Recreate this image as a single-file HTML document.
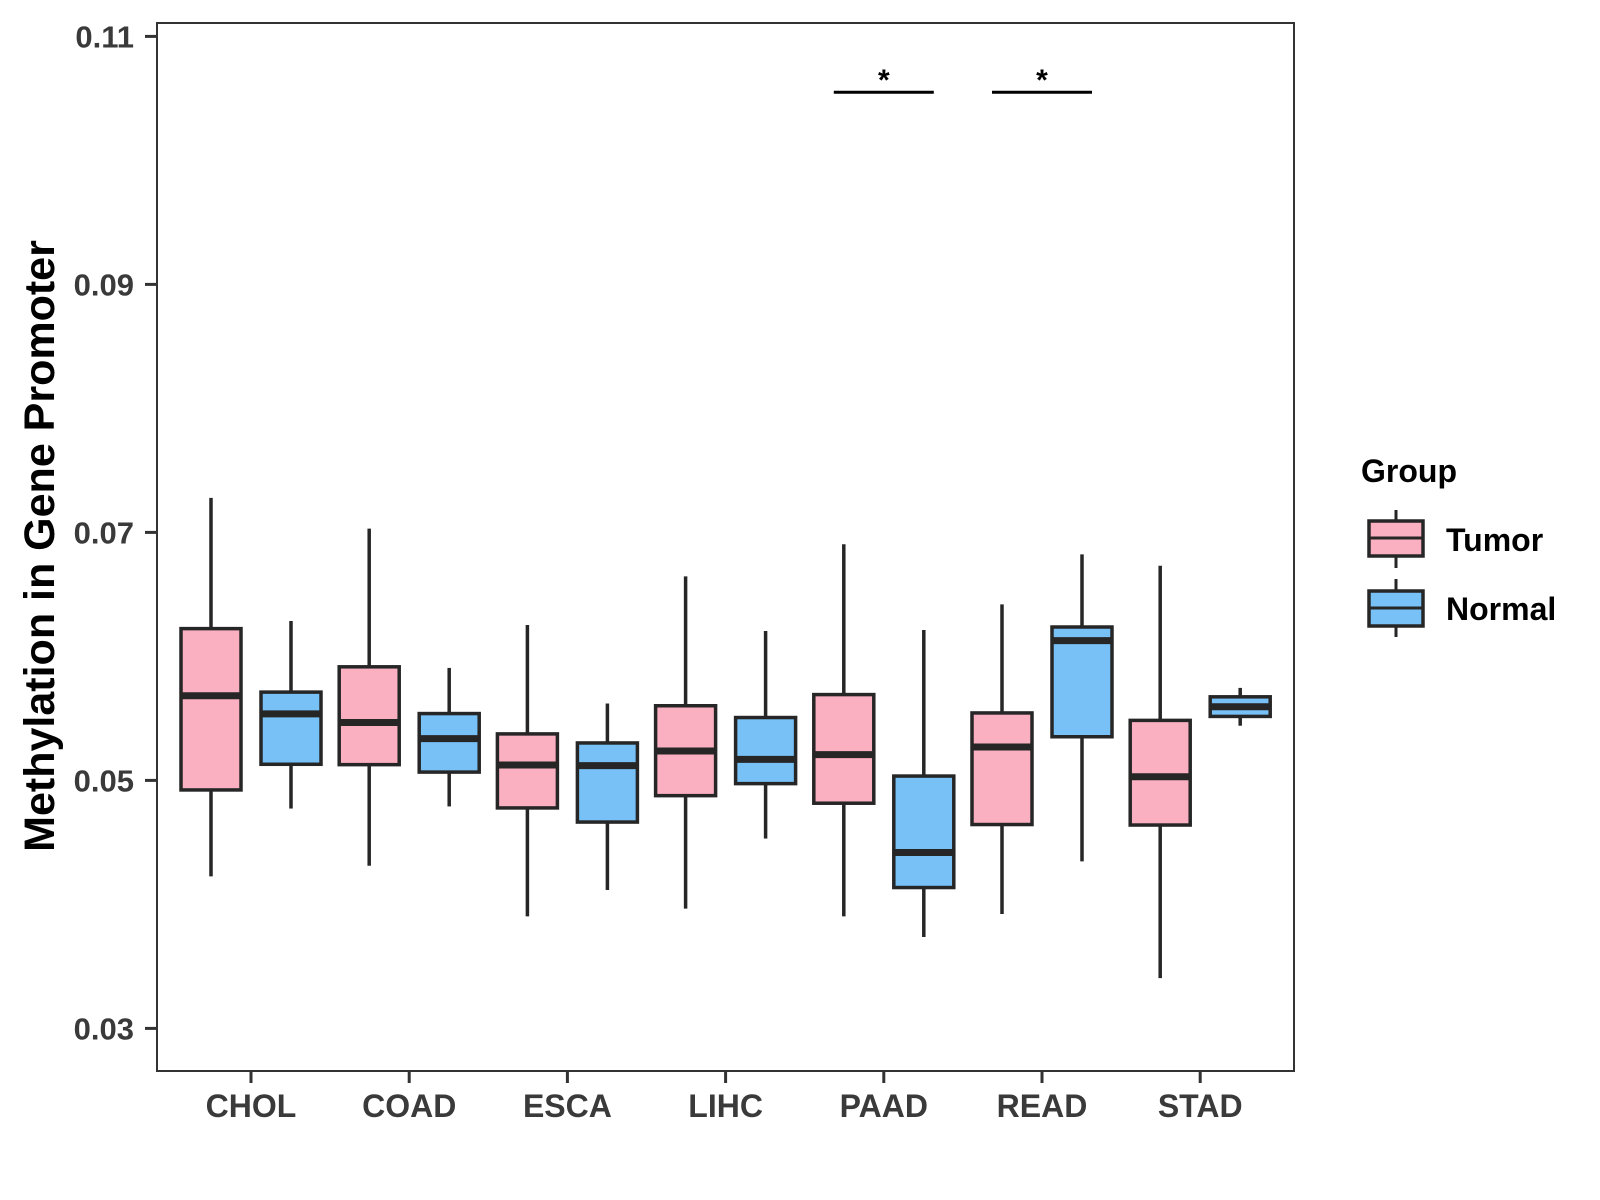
<!DOCTYPE html>
<html><head><meta charset="utf-8"><style>
html,body{margin:0;padding:0;background:#fff}
svg{display:block;font-family:"Liberation Sans",Arial,sans-serif;font-weight:bold}
</style></head><body>
<svg id="chart" width="1600" height="1200" viewBox="0 0 1600 1200" xmlns="http://www.w3.org/2000/svg">
<rect x="157" y="23" width="1137" height="1048" fill="#fff" stroke="#333" stroke-width="2"/>
<g id="yaxis"></g>
<g id="xaxis"></g>
<g id="boxes"></g>
<g id="sig"></g>
<text x="0" y="0" transform="translate(54,546) rotate(-90)" text-anchor="middle" font-size="43" fill="#000">Methylation in Gene Promoter</text>
<g>
<text x="1361" y="482" font-size="32" fill="#000">Group</text>
<g>
<line x1="1396" y1="510" x2="1396" y2="568" stroke="#262626" stroke-width="3"/>
<rect x="1369" y="521" width="54" height="35" fill="#FBB0C1" stroke="#262626" stroke-width="3.5"/>
<line x1="1369" y1="538" x2="1423" y2="538" stroke="#262626" stroke-width="3"/>
<text x="1446" y="551" font-size="32" fill="#000">Tumor</text>
</g>
<g>
<line x1="1396" y1="579" x2="1396" y2="637" stroke="#262626" stroke-width="3"/>
<rect x="1369" y="591" width="54" height="35" fill="#77C1F7" stroke="#262626" stroke-width="3.5"/>
<line x1="1369" y1="608" x2="1423" y2="608" stroke="#262626" stroke-width="3"/>
<text x="1446" y="620" font-size="32" fill="#000">Normal</text>
</g>
</g>
</svg>
<script>
const categories = ["CHOL","COAD","ESCA","LIHC","PAAD","READ","STAD"];
const groups = ["Tumor","Normal"];
const tumorLow = [0.04226,0.04312,0.03903,0.03966,0.03903,0.03923,0.03405];
const tumorQ1 = [0.04923,0.05127,0.04778,0.04877,0.04816,0.04644,0.04640];
const tumorMed = [0.05683,0.05467,0.05124,0.05237,0.05208,0.05269,0.05029];
const tumorQ3 = [0.06224,0.05916,0.05375,0.05602,0.05692,0.05544,0.05484];
const tumorHigh = [0.07278,0.07030,0.06253,0.06645,0.06904,0.06420,0.06731];
const normalLow = [0.04773,0.04790,0.04116,0.04531,0.03737,0.04347,0.05441];
const normalQ1 = [0.05130,0.05067,0.04664,0.04974,0.04136,0.05352,0.05516];
const normalMed = [0.05536,0.05337,0.05119,0.05170,0.04419,0.06127,0.05594];
const normalQ3 = [0.05712,0.05539,0.05302,0.05507,0.05035,0.06237,0.05674];
const normalHigh = [0.06285,0.05907,0.05620,0.06205,0.06213,0.06823,0.05746];
const yTicks = [0.03,0.05,0.07,0.09,0.11];
const yTickLabels = ["0.03","0.05","0.07","0.09","0.11"];
const sigCategories = ["PAAD","READ"];
const sigLabels = ["*","*"];
const sigValue = 0.1055;

const NS="http://www.w3.org/2000/svg";
function y(v){return 780.4-(v-0.05)*12400;}
function xc(i){return 251+i*158.2;}
function mk(tag,attrs,parent){const e=document.createElementNS(NS,tag);for(const k in attrs)e.setAttribute(k,attrs[k]);parent.appendChild(e);return e;}
const ya=document.getElementById('yaxis'),xa=document.getElementById('xaxis'),bx=document.getElementById('boxes'),sg=document.getElementById('sig');
yTicks.forEach((t,i)=>{
  const l=mk('line',{x1:145,x2:157,y1:y(t),y2:y(t),stroke:'#333','stroke-width':3},ya);
  
  
  const tx=mk('text',{x:134,y:y(t)+11,'text-anchor':'end','font-size':31,fill:'#3a3a3a'},ya);
  tx.textContent=yTickLabels[i];
  
  
});
categories.forEach((c,i)=>{
  const l=mk('line',{x1:xc(i),x2:xc(i),y1:1071,y2:1083,stroke:'#333','stroke-width':3},xa);
  
  
  const tx=mk('text',{x:xc(i),y:1117,'text-anchor':'middle','font-size':32,fill:'#3a3a3a'},xa);
  tx.textContent=c;
  
  
});
const series=[
 {lo:tumorLow,q1:tumorQ1,md:tumorMed,q3:tumorQ3,hi:tumorHigh,fill:'#FBB0C1',off:-40,name:'tumor'},
 {lo:normalLow,q1:normalQ1,md:normalMed,q3:normalQ3,hi:normalHigh,fill:'#77C1F7',off:40,name:'normal'}];
series.forEach(s=>{
  categories.forEach((c,i)=>{
    const cx=xc(i)+s.off,w=60;
    const g=mk('g',{},bx);
    
    
    mk('line',{x1:cx,x2:cx,y1:y(s.hi[i]),y2:y(s.q3[i]),stroke:'#262626','stroke-width':3.5},g);
    mk('line',{x1:cx,x2:cx,y1:y(s.q1[i]),y2:y(s.lo[i]),stroke:'#262626','stroke-width':3.5},g);
    mk('rect',{x:cx-w/2,y:y(s.q3[i]),width:w,height:y(s.q1[i])-y(s.q3[i]),fill:s.fill,stroke:'#262626','stroke-width':3.5},g);
    mk('line',{x1:cx-w/2,x2:cx+w/2,y1:y(s.md[i]),y2:y(s.md[i]),stroke:'#262626','stroke-width':7},g);
  });
});
sigCategories.forEach((c,k)=>{
  const i=categories.indexOf(c);
  const l=mk('line',{x1:xc(i)-50,x2:xc(i)+50,y1:y(sigValue),y2:y(sigValue),stroke:'#000','stroke-width':3},sg);
  
  
  const t=mk('text',{x:xc(i),y:y(sigValue)-2,'text-anchor':'middle','font-size':30,fill:'#000'},sg);
  t.textContent=sigLabels[k];
  
  
});
</script>
</body></html>
